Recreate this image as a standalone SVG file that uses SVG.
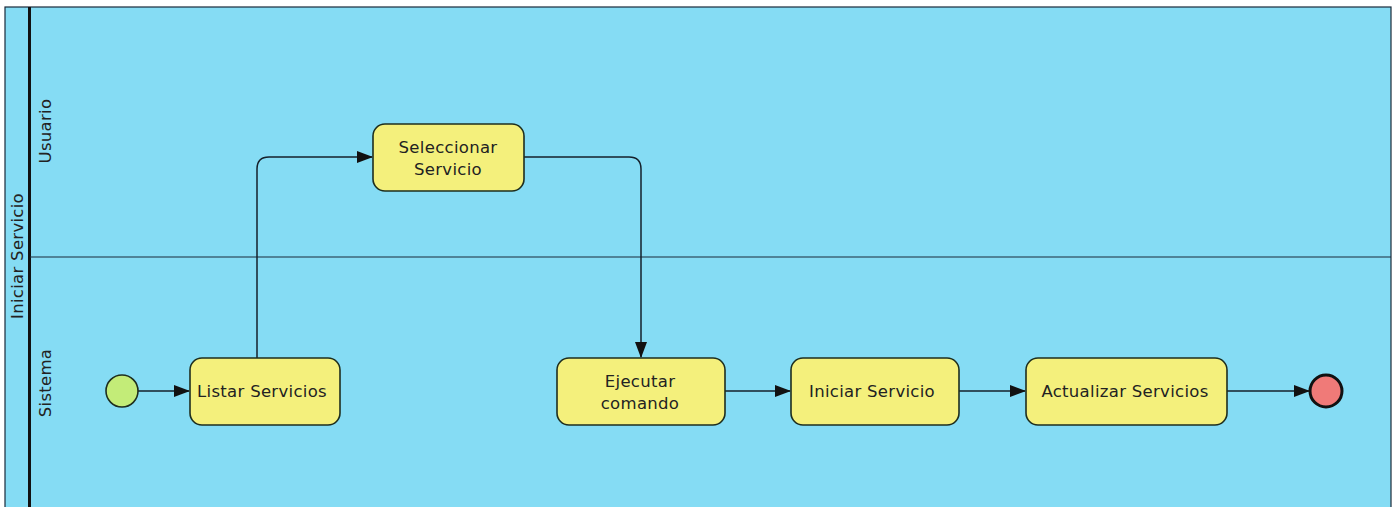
<svg xmlns="http://www.w3.org/2000/svg" width="1399" height="507" viewBox="0 0 1399 507">
<style>
.pool{fill:#85dcf4;stroke:#1a2a3a;stroke-width:1.2}
.task{fill:#f4f07c;stroke:#1e2e1e;stroke-width:1.6}
.lbl{font-family:"DejaVu Sans",sans-serif;font-size:16.5px;letter-spacing:0.3px;fill:#222;text-anchor:middle}
.conn{fill:none;stroke:#15212b;stroke-width:1.5;marker-end:url(#ah)}
</style>
<defs>
<marker id="ah" markerWidth="16" markerHeight="12" refX="15" refY="6" orient="auto" markerUnits="userSpaceOnUse">
<path d="M0,0 L16,6 L0,12 Z" fill="#111"/>
</marker>
</defs>
<rect width="1399" height="507" fill="#ffffff"/>
<g id="pool">
<rect class="pool" x="5" y="7" width="1386" height="510"/>
<line x1="29.5" y1="7" x2="29.5" y2="507" stroke="#111" stroke-width="3"/>
<line x1="30" y1="257" x2="1391" y2="257" stroke="#1a2a3a" stroke-width="1.2"/>
<text class="lbl" transform="translate(23,256) rotate(-90)">Iniciar Servicio</text>
<text class="lbl" transform="translate(51,131) rotate(-90)">Usuario</text>
<text class="lbl" transform="translate(51,383) rotate(-90)">Sistema</text>
</g>
<g id="connectors">
<path class="conn" d="M138,391 H189"/>
<path class="conn" d="M257,358 V169 Q257,157 269,157 H372"/>
<path class="conn" d="M524,157 H629 Q641,157 641,169 V357"/>
<path class="conn" d="M725,391 H790"/>
<path class="conn" d="M959,391 H1025"/>
<path class="conn" d="M1227,391 H1309"/>
</g>
<g id="start"><circle cx="122" cy="391" r="16" fill="#c3ec78" stroke="#1e2e1e" stroke-width="1.6"/></g>
<g id="listar"><rect class="task" x="190" y="358" width="150" height="67" rx="12"/><text class="lbl" x="262" y="397">Listar Servicios</text></g>
<g id="seleccionar"><rect class="task" x="373" y="124" width="151" height="67" rx="12"/><text class="lbl" x="448" y="153">Seleccionar</text><text class="lbl" x="448" y="175">Servicio</text></g>
<g id="ejecutar"><rect class="task" x="557" y="358" width="168" height="67" rx="12"/><text class="lbl" x="640" y="387">Ejecutar</text><text class="lbl" x="640" y="409">comando</text></g>
<g id="iniciar"><rect class="task" x="791" y="358" width="168" height="67" rx="12"/><text class="lbl" x="872" y="397">Iniciar Servicio</text></g>
<g id="actualizar"><rect class="task" x="1026" y="358" width="201" height="67" rx="12"/><text class="lbl" x="1125" y="397">Actualizar Servicios</text></g>
<g id="end"><circle cx="1326" cy="391" r="16" fill="#f07a78" stroke="#111" stroke-width="3"/></g>
</svg>
